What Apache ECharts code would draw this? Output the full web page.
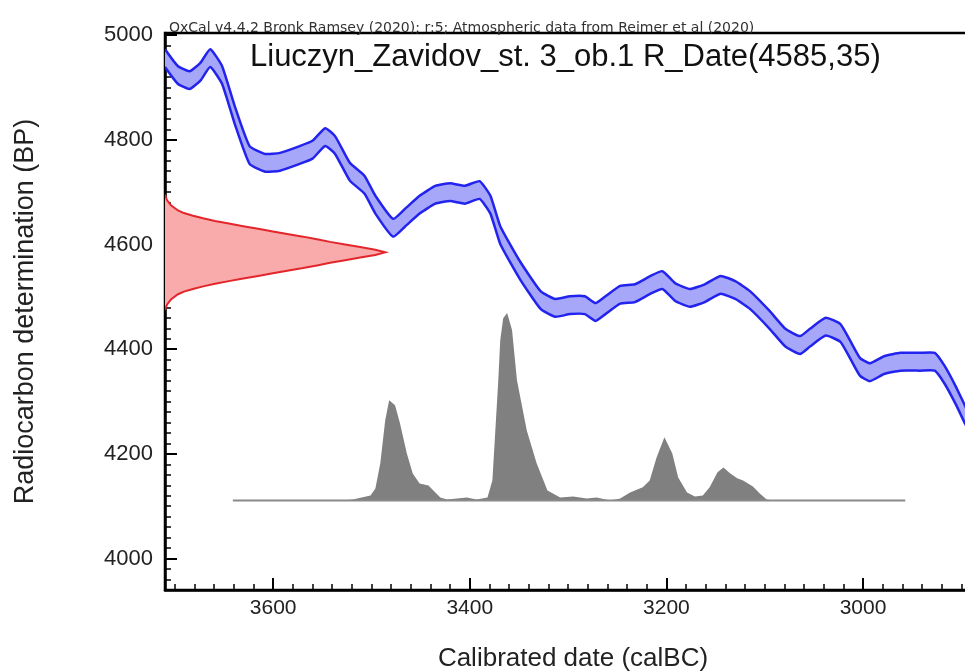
<!DOCTYPE html>
<html>
<head>
<meta charset="utf-8">
<script src="https://cdn.jsdelivr.net/npm/echarts@6/dist/echarts.min.js"></script>
<style>html,body{margin:0;padding:0;background:#fff;}#c{width:965px;height:672px;}</style>
</head>
<body>
<div id="c"></div>
<script>
// ---- data ----
const xTicks = [3600, 3400, 3200, 3000];
const yTicks = [4000, 4200, 4400, 4600, 4800, 5000];

// calibration curve (calBC, BP centre, 1-sigma)
const calYears = [3710,3697,3685,3674,3664,3652,3639,3624,3608,3593,3573,3560,3547,3537,3522,3507,3496,3478,3466,3451,3435,3420,3405,3390,3379,3369,3349,3328,3313,3298,3283,3272,3262,3247,3232,3216,3204,3191,3176,3161,3145,3130,3115,3095,3079,3064,3054,3038,3023,3013,3003,2993,2978,2962,2942,2927,2917,2906,2896,2886];
const calBP    = [4956,4924,4914,4930,4956,4924,4847,4771,4756,4758,4771,4781,4805,4790,4739,4714,4676,4632,4651,4676,4695,4700,4695,4704,4676,4618,4551,4494,4479,4484,4484,4471,4484,4504,4507,4523,4532,4509,4498,4507,4523,4513,4494,4456,4422,4408,4422,4443,4431,4399,4366,4356,4370,4376,4376,4376,4351,4313,4274,4236];
const calSigma = [17,17,17,17,17,17,17,17,17,17,17,17,17,17,17,17,17,17,17,17,17,17,17,17,17,17,17,17,17,17,17,17,17,17,17,17,17,17,17,17,17,17,17,17,17,17,17,17,17,17,17,17,17,17,17,17,17,17,17,17];

// radiocarbon measurement R_Date(4585,35): BP vs relative probability
const rBP   = [4475,4485,4495,4505,4510,4515,4520,4525,4530,4535,4540,4545,4550,4555,4560,4565,4570,4575,4580,4585,4590,4595,4600,4605,4610,4615,4620,4625,4630,4635,4640,4645,4650,4655,4660,4665,4675,4685,4695];
const rProb = [0,0.009,0.027,0.059,0.086,0.127,0.173,0.227,0.29,0.355,0.423,0.49,0.555,0.627,0.69,0.75,0.818,0.886,0.955,1.0,0.955,0.886,0.818,0.75,0.69,0.627,0.555,0.49,0.423,0.355,0.29,0.227,0.173,0.127,0.086,0.059,0.027,0.009,0];

// calibrated date: calBC vs relative probability
const hYears = [3641,3532,3519,3501,3496,3491,3486,3482,3476,3471,3464,3458,3451,3442,3437,3430,3423,3403,3393,3382,3377,3374,3371,3369,3366,3362,3357,3352,3342,3332,3321,3308,3295,3281,3271,3257,3247,3237,3224,3217,3210,3202,3194,3188,3179,3171,3163,3156,3148,3142,3135,3128,3122,3112,3105,3098,3091,2957];
const hProb  = [0,0,0.5,2.7,6.4,19.8,42.8,53.5,50.8,41.2,25.1,14.4,9.1,8,5.3,1.6,0.5,1.6,0.5,1.6,10.7,37.4,64.2,85.6,97.3,100,90.9,64.2,37.4,19.8,5.3,1.6,2.1,1.1,1.6,0,1.1,4.3,7,10.7,23,33.7,25.1,12.3,4.3,2.1,2.7,7,15,17.6,14.4,11.8,10.7,7.5,3.7,0.5,0,0];

// ---- layout constants ----
const X_MIN = 2880, X_MAX = 3710, Y_MIN = 3940, Y_MAX = 5004;
const R_SCALE = 224;       // years for peak of measurement curve
const H_BASE = 4111;       // BP baseline of calibrated distribution
const H_SCALE = 3.58;      // BP per probability unit

function poly(name, z, build) {
  return {
    type: 'custom', name: name, z: z, clip: true,
    coordinateSystem: 'cartesian2d', xAxisIndex: 0, yAxisIndex: 0,
    data: [[3300, 4500]],
    renderItem: function (params, api) { return { type: 'group', children: build(api) }; }
  };
}

const band = poly('band', 3, function (api) {
  const up = calYears.map((y, i) => api.coord([y, calBP[i] + calSigma[i]]));
  const lo = calYears.map((y, i) => api.coord([y, calBP[i] - calSigma[i]]));
  const pts = up.concat(lo.slice().reverse());
  const ls = { fill: null, stroke: '#2323ee', lineWidth: 2.5, lineJoin: 'round' };
  return [
    { type: 'polygon', shape: { points: pts, smooth: 0.15 }, style: { fill: '#a7a7fa', stroke: null } },
    { type: 'polyline', shape: { points: up, smooth: 0.15 }, style: ls },
    { type: 'polyline', shape: { points: lo, smooth: 0.15 }, style: ls }
  ];
});

const meas = poly('meas', 4, function (api) {
  const pts = rBP.map((b, i) => api.coord([X_MAX - rProb[i] * R_SCALE, b]));
  return [
    { type: 'polygon', shape: { points: pts }, style: { fill: '#f9aaaa', stroke: null } },
    { type: 'polyline', shape: { points: pts }, style: { fill: null, stroke: '#e3262b', lineWidth: 2 } }
  ];
});

const hist = poly('hist', 2, function (api) {
  const pts = hYears.map((y, i) => api.coord([y, H_BASE + hProb[i] * H_SCALE]));
  const base = [api.coord([hYears[0], H_BASE]), api.coord([hYears[hYears.length - 1], H_BASE])];
  return [
    { type: 'polygon', shape: { points: pts.concat([base[1], base[0]]) }, style: { fill: '#808080', stroke: null } },
    { type: 'polyline', shape: { points: base }, style: { fill: null, stroke: '#8a8a8a', lineWidth: 2 } }
  ];
});

const FONT = 'Liberation Sans, Arial, sans-serif';
const plain = function (v) { return String(v); };
const chart = echarts.init(document.getElementById('c'), null, { renderer: 'canvas' });
chart.setOption({
  animation: false,
  backgroundColor: '#ffffff',
  title: [
    { text: 'OxCal v4.4.2 Bronk Ramsey (2020); r:5; Atmospheric data from Reimer et al (2020)',
      left: 164, top: 16, textStyle: { fontFamily: 'DejaVu Sans, sans-serif', fontSize: 14, fontWeight: 'normal', color: '#333' } },
    { text: 'Liuczyn_Zavidov_st. 3_ob.1 R_Date(4585,35)',
      left: 245, top: 37, textStyle: { fontFamily: FONT, fontSize: 31, fontWeight: 'normal', color: '#111' } }
  ],
  grid: { left: 165, top: 33, width: 816, height: 557, outerBoundsMode: 'none', show: true, borderColor: '#000', borderWidth: 2.5, containLabel: false },
  xAxis: [
    { type: 'value', inverse: true, min: X_MIN, max: X_MAX, position: 'bottom',
      name: 'Calibrated date (calBC)', nameLocation: 'middle', nameGap: 56,
      nameTextStyle: { fontFamily: FONT, fontSize: 26, color: '#222' },
      axisLine: { show: true, lineStyle: { color: '#000', width: 2.5 } },
      axisTick: { show: true, inside: true, length: 12, customValues: xTicks, lineStyle: { color: '#000', width: 2 } },
      axisLabel: { show: true, customValues: xTicks, formatter: plain, margin: 8, fontFamily: FONT, fontSize: 21, color: '#222' },
      splitLine: { show: false } },
    { type: 'value', inverse: true, min: X_MIN, max: X_MAX, interval: 20, position: 'bottom',
      axisLine: { show: false }, axisLabel: { show: false }, splitLine: { show: false },
      axisTick: { show: true, inside: true, length: 6, lineStyle: { color: '#000', width: 1.5 } } }
  ],
  yAxis: [
    { type: 'value', min: Y_MIN, max: Y_MAX, position: 'left',
      name: 'Radiocarbon determination (BP)', nameLocation: 'middle', nameGap: 126,
      nameTextStyle: { fontFamily: FONT, fontSize: 27, color: '#222' },
      axisLine: { show: true, lineStyle: { color: '#000', width: 2.5 } },
      axisTick: { show: true, inside: true, length: 12, customValues: yTicks, lineStyle: { color: '#000', width: 2 } },
      axisLabel: { show: true, customValues: yTicks, formatter: plain, margin: 12, fontFamily: FONT, fontSize: 22, color: '#222' },
      splitLine: { show: false } },
    { type: 'value', min: Y_MIN, max: Y_MAX, interval: 20, position: 'left',
      axisLine: { show: false }, axisLabel: { show: false }, splitLine: { show: false },
      axisTick: { show: true, inside: true, length: 6, lineStyle: { color: '#000', width: 1.5 } } }
  ],
  series: [hist, band, meas]
});
</script>
</body>
</html>
